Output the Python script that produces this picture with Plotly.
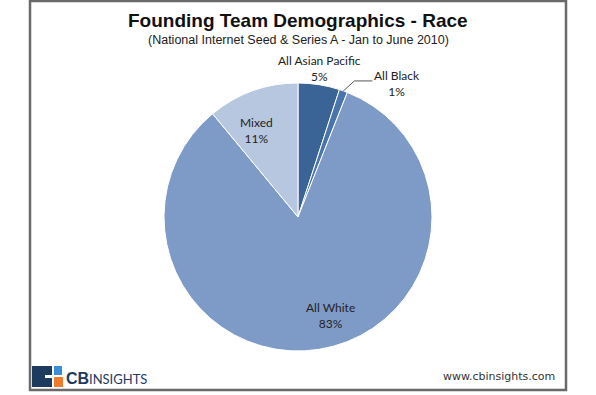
import math
import plotly.graph_objects as go

# ---- data ----
labels = ["All Asian Pacific", "All Black", "All White", "Mixed"]
values = [5, 1, 83, 11]
colors = ["#3A6396", "#4A74AC", "#7E9BC8", "#B8C7E0"]

title = "Founding Team Demographics - Race"
subtitle = "(National Internet Seed & Series A - Jan to June 2010)"

W, H = 596, 395
CX, CY, R = 298, 217, 134  # pie centre / radius in pixels


def px(x, y):
    return x / W, 1 - y / H


fig = go.Figure()
fig.add_trace(go.Pie(
    labels=labels, values=values, sort=False, direction="clockwise", rotation=0,
    marker=dict(colors=colors, line=dict(color="white", width=1)),
    textinfo="none", hoverinfo="label+percent", showlegend=False,
    domain=dict(x=[(CX - R) / W, (CX + R) / W], y=[1 - (CY + R) / H, 1 - (CY - R) / H]),
))

# slice mid-angles (clockwise from 12 o'clock)
total = sum(values)
mids = []
acc = 0
for v in values:
    mids.append((acc + v / 2) / total * 2 * math.pi)
    acc += v

lab_font = dict(family="Lato, Carlito, sans-serif", size=12, color="#222222")
pcts = [f"{round(v / total * 100)}%" for v in values]

# label positions (pixels)
label_pos = {
    0: (319, 68),
    1: (397, 83),
    2: (331, 315),
    3: (256, 130),
}
anns = []
for i, (x, y) in label_pos.items():
    xx, yy = px(x, y)
    anns.append(dict(x=xx, y=yy, xref="paper", yref="paper", showarrow=False,
                     text=f"{labels[i]}<br>{pcts[i]}", font=lab_font, align="center",
                     xanchor="center", yanchor="middle"))

# leader line for the thin slice
a = mids[1]
sx, sy = CX + R * math.sin(a), CY - R * math.cos(a)
ex, ey = sx + 11, sy - 10
fx = ex + 18
p = [px(sx, sy), px(ex, ey), px(fx, ey)]
path = f"M {p[0][0]},{p[0][1]} L {p[1][0]},{p[1][1]} L {p[2][0]},{p[2][1]}"
shapes = [dict(type="path", path=path, xref="paper", yref="paper",
               line=dict(color="#555555", width=1))]

# frame
x0, y0 = px(30, 1)
x1, y1 = px(566, 390)
shapes.append(dict(type="rect", xref="paper", yref="paper", x0=x0, y0=y1, x1=x1, y1=y0,
                   line=dict(color="#6a6a6a", width=2.5), layer="above"))

# logo icon
def rect(xa, ya, xb, yb, color):
    a0, b0 = px(xa, ya)
    a1, b1 = px(xb, yb)
    return dict(type="rect", xref="paper", yref="paper", x0=a0, y0=b1, x1=a1, y1=b0,
                fillcolor=color, line=dict(width=0))

shapes.append(rect(32, 366, 52, 387, "#1E3A5F"))
shapes.append(rect(45, 375, 52, 378, "white"))
shapes.append(rect(54, 366, 62, 375, "#3B8ED5"))
shapes.append(rect(54, 377, 63, 387, "#F07B2C"))

# titles
tx, ty = px(298, 20)
anns.append(dict(x=tx, y=ty, xref="paper", yref="paper", showarrow=False, text=f"<b>{title}</b>",
                 font=dict(family="Liberation Sans, Arial, sans-serif", size=19, color="#111111"),
                 xanchor="center", yanchor="middle"))
tx, ty = px(298, 40)
anns.append(dict(x=tx, y=ty, xref="paper", yref="paper", showarrow=False, text=subtitle,
                 font=dict(family="Liberation Sans, Arial, sans-serif", size=12.5, color="#222222"),
                 xanchor="center", yanchor="middle"))

# logo text
lx, ly = px(64, 378)
anns.append(dict(x=lx, y=ly, xref="paper", yref="paper", showarrow=False,
                 text="<b>CB</b>", font=dict(family="Liberation Sans, Arial, sans-serif", size=16, color="#1E3A5F"),
                 xanchor="left", yanchor="middle"))
lx, ly = px(87, 379)
anns.append(dict(x=lx, y=ly, xref="paper", yref="paper", showarrow=False,
                 text="INSIGHTS", font=dict(family="Lato, sans-serif", size=13, color="#1E3A5F"),
                 xanchor="left", yanchor="middle"))

# website
wx, wy = px(557, 376)
anns.append(dict(x=wx, y=wy, xref="paper", yref="paper", showarrow=False,
                 text="www.cbinsights.com", font=dict(family="DejaVu Sans, sans-serif", size=11, color="#333333"),
                 xanchor="right", yanchor="middle"))

fig.update_layout(
    width=W, height=H, margin=dict(l=0, r=0, t=0, b=0),
    paper_bgcolor="white", plot_bgcolor="white",
    annotations=anns, shapes=shapes,
)

fig.write_html("out.html", config={"displayModeBar": False},
               post_script="document.body.style.margin='0';document.body.style.overflow='hidden';")
